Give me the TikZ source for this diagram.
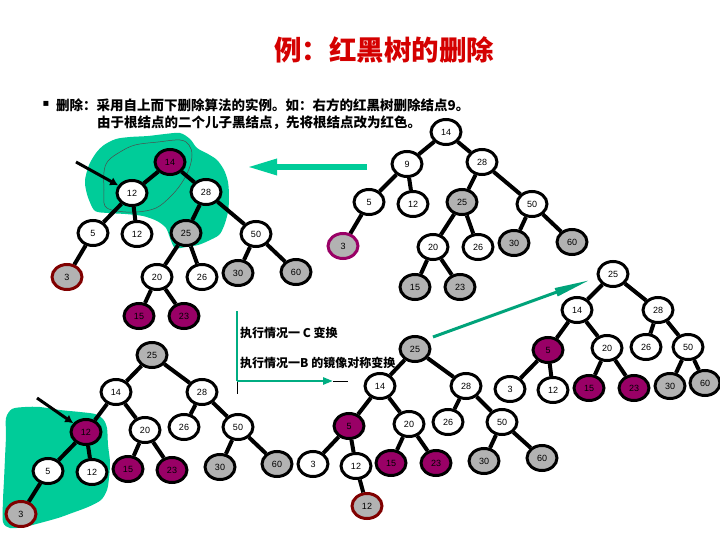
\documentclass[tikz,border=0pt]{standalone}
\usepackage{fontspec}
\setmainfont{Liberation Sans}
\newfontfamily\cjk{Noto Sans CJK SC}
\newfontfamily\symb{DejaVu Sans}
\usetikzlibrary{
  arrows.meta,
  shapes.geometric
}
\definecolor{rbred}{HTML}{990066}
\definecolor{rbgray}{HTML}{B2B2B2}
\definecolor{blob}{HTML}{00CC99}
\definecolor{darkrim}{HTML}{800000}
\definecolor{titlered}{HTML}{D40000}

\begin{document}
\begin{tikzpicture}[
  x=1pt, y=-1pt,
  rb/.style={ellipse, draw, line width=3pt, minimum width=30pt, minimum height=25pt,
             inner sep=0pt, fill=white, font=\fontsize{9}{9}\selectfont},
  rnode/.style={rb, fill=rbred},
  gnode/.style={rb, fill=rbgray},
  link/.style={line width=4pt, black},
  pointer/.style={line width=3pt, black, -{Latex[length=8pt,width=9pt]}},
  txt/.style={anchor=west, inner sep=0pt, font=\cjk\bfseries\fontsize{13.5}{13.5}\selectfont},
  lbl/.style={anchor=west, inner sep=0pt, font=\cjk\bfseries\fontsize{12}{12}\selectfont}
]
  \useasboundingbox (0,0) rectangle (720,540);

  % Heading and explanation
  \node[font=\cjk\bfseries\fontsize{27.5}{27.5}\selectfont, text=titlered] (heading) at (384,50) {例：红黑树的删除};
  \node[font=\symb\fontsize{10}{10}\selectfont, inner sep=0pt] (bullet) at (46,104) {▪};
  \node[txt] (line1) at (56,105) {删除：采用自上而下删除算法的实例。如：右方的红黑树删除结点9。};
  \node[txt] (line2) at (97,123) {由于根结点的二个儿子黑结点，先将根结点改为红色。};

  % Highlighted regions
  \fill[blob] plot[smooth cycle, tension=0.5] coordinates {
    (85,180) (89,165) (96,153) (104,145) (116,139) (130,137) (148,136) (165,134)
    (180,133) (190,139) (197,148) (208,154) (217,160) (224,170) (228,182) (229,197)
    (228,212) (224,226) (219,235) (208,241) (198,245) (186,247) (175,248) (170,238)
    (166,228) (157,221) (143,216) (125,214) (108,213) (95,211) (89,200) (86,190)};
  \draw[black!70, line width=0.5pt] plot[smooth cycle, tension=0.6] coordinates {
    (104,190) (104,172) (108,161) (120,152) (135,145) (158,142) (180,140) (189,145)
    (192,155) (189,169) (181,184) (170,197) (156,208) (137,212) (117,211) (105,206)};
  \fill[blob] plot[smooth cycle, tension=0.5] coordinates {
    (6,418) (12,409) (25,407) (40,407) (60,410) (80,412) (95,414) (103,419) (107,428)
    (108,445) (110,462) (109,478) (107,490) (101,500) (88,507) (72,513) (58,518)
    (40,523) (24,527) (10,528) (3,522) (3,500) (4,480) (5,458) (6,435)};

  % Tree before deletion (upper right)
  \node[rb] (b14) at (446,132) {14};
  \node[rb] (b9) at (407,164) {9};
  \node[rb] (b28) at (482,162) {28};
  \node[rb] (b5) at (369,202) {5};
  \node[rb] (b12) at (413,204) {12};
  \node[gnode] (b25) at (462,202) {25};
  \node[rb] (b50) at (532,204) {50};
  \node[gnode, draw=rbred] (b3) at (343,246) {3};
  \node[rb] (b20) at (433,247) {20};
  \node[rb] (b26) at (478,247) {26};
  \node[gnode] (b30) at (514,243) {30};
  \node[gnode] (b60) at (572,242) {60};
  \node[gnode] (b15) at (415,287) {15};
  \node[gnode] (b23) at (460,287) {23};
  \draw[link] (b14) -- (b9) (b14) -- (b28) (b9) -- (b5) (b9) -- (b12)
    (b28) -- (b25) (b28) -- (b50) (b5) -- (b3) (b25) -- (b20) (b25) -- (b26)
    (b50) -- (b30) (b50) -- (b60) (b20) -- (b15) (b20) -- (b23);

  % Tree after deleting 9 (upper left)
  \node[rnode] (a14) at (170,162) {14};
  \node[rb] (a12) at (132,193) {12};
  \node[rb] (a28) at (206,192) {28};
  \node[rb] (a5) at (93,233) {5};
  \node[rb] (a12b) at (137,234) {12};
  \node[gnode] (a25) at (186,233) {25};
  \node[rb] (a50) at (256,234) {50};
  \node[gnode, draw=darkrim] (a3) at (67,277) {3};
  \node[rb] (a20) at (157,277) {20};
  \node[rb] (a26) at (202,277) {26};
  \node[gnode] (a30) at (238,273) {30};
  \node[gnode] (a60) at (296,272) {60};
  \node[rnode] (a15) at (139,316) {15};
  \node[rnode] (a23) at (184,316) {23};
  \draw[link] (a14) -- (a12) (a14) -- (a28) (a12) -- (a5) (a12) -- (a12b)
    (a28) -- (a25) (a28) -- (a50) (a5) -- (a3) (a25) -- (a20) (a25) -- (a26)
    (a50) -- (a30) (a50) -- (a60) (a20) -- (a15) (a20) -- (a23);

  % Tree after case C (lower left)
  \node[gnode] (c25) at (152,355) {25};
  \node[rb] (c14) at (116,392) {14};
  \node[rb] (c28) at (202,392) {28};
  \node[rnode] (c12) at (86,432) {12};
  \node[rb] (c20) at (145,430) {20};
  \node[rb] (c26) at (184,427) {26};
  \node[rb] (c50) at (238,427) {50};
  \node[rb] (c5) at (48,471) {5};
  \node[rb] (c12b) at (92,472) {12};
  \node[rnode] (c15) at (128,469) {15};
  \node[rnode] (c23) at (172,470) {23};
  \node[gnode] (c30) at (220,467) {30};
  \node[gnode] (c60) at (277,464) {60};
  \node[gnode, draw=darkrim] (c3) at (21,514) {3};
  \draw[link] (c25) -- (c14) (c25) -- (c28) (c14) -- (c12) (c14) -- (c20)
    (c28) -- (c26) (c28) -- (c50) (c12) -- (c5) (c12) -- (c12b) (c20) -- (c15)
    (c20) -- (c23) (c50) -- (c30) (c50) -- (c60) (c5) -- (c3);

  % Tree after mirrored case B (lower middle)
  \node[gnode] (d25) at (415,349) {25};
  \node[rb] (d14) at (380,386) {14};
  \node[rb] (d28) at (466,386) {28};
  \node[rnode] (d5) at (349,426) {5};
  \node[rb] (d20) at (409,424) {20};
  \node[rb] (d26) at (448,422) {26};
  \node[rb] (d50) at (502,422) {50};
  \node[rb] (d3) at (313,464) {3};
  \node[rb] (d12) at (356,466) {12};
  \node[rnode] (d15) at (391,463) {15};
  \node[rnode] (d23) at (436,463) {23};
  \node[gnode] (d30) at (484,461) {30};
  \node[gnode] (d60) at (542,458) {60};
  \node[gnode, draw=darkrim] (d12b) at (367,506) {12};
  \draw[link] (d25) -- (d14) (d25) -- (d28) (d14) -- (d5) (d14) -- (d20)
    (d28) -- (d26) (d28) -- (d50) (d5) -- (d3) (d5) -- (d12) (d20) -- (d15)
    (d20) -- (d23) (d50) -- (d30) (d50) -- (d60) (d12) -- (d12b);

  % Final tree (lower right)
  \node[rb] (e25) at (613,274) {25};
  \node[rb] (e14) at (577,310) {14};
  \node[rb] (e28) at (658,310) {28};
  \node[rnode] (e5) at (548,350) {5};
  \node[rb] (e20) at (607,348) {20};
  \node[rb] (e26) at (646,347) {26};
  \node[rb] (e50) at (688,347) {50};
  \node[rb] (e3) at (510,389) {3};
  \node[rb] (e12) at (553,390) {12};
  \node[rnode] (e15) at (589,388) {15};
  \node[rnode] (e23) at (634,388) {23};
  \node[gnode] (e30) at (670,386) {30};
  \node[gnode] (e60) at (705,383) {60};
  \draw[link] (e25) -- (e14) (e25) -- (e28) (e14) -- (e5) (e14) -- (e20)
    (e28) -- (e26) (e28) -- (e50) (e5) -- (e3) (e5) -- (e12) (e20) -- (e15)
    (e20) -- (e23) (e50) -- (e30) (e50) -- (e60);

  % Pointers to the current node
  \coordinate (tailA) at (76,162);
  \coordinate (tailC) at (37,398);
  \draw[pointer] (tailA) -- (a12);
  \draw[pointer] (tailC) -- (c12);

  % Green arrows between steps
  \coordinate (moveR) at (367,167);
  \coordinate (moveL) at (247,167);
  \draw[blob, line width=6pt, -{Triangle[length=30pt,width=15pt]}] (moveR) -- (moveL);
  \coordinate (stepS) at (433,337);
  \coordinate (stepT) at (590,280);
  \draw[blob!80!black, line width=3pt, -{Triangle[length=36pt,width=8pt]}] (stepS) -- (stepT);
  \coordinate (barTop) at (237,311);
  \coordinate (barJoin) at (237,381);
  \coordinate (barFoot) at (237,394);
  \coordinate (barHead) at (333,381);
  \coordinate (barEnd) at (348,381);
  \draw[blob!85!black, line width=2.5pt] (barTop) -- (barJoin);
  \draw[black, line width=1pt] (barJoin) -- (barFoot);
  \draw[blob!85!black, line width=2.5pt, -{Triangle[length=10pt,width=7pt]}] (barJoin) -- (barHead);
  \draw[black, line width=1pt] (barHead) -- (barEnd);

  % Case labels
  \node[lbl] (caseC) at (240,333) {执行情况一 C 变换};
  \node[lbl] (caseB) at (240,363) {执行情况一B 的镜像对称变换};
\end{tikzpicture}
\end{document}
